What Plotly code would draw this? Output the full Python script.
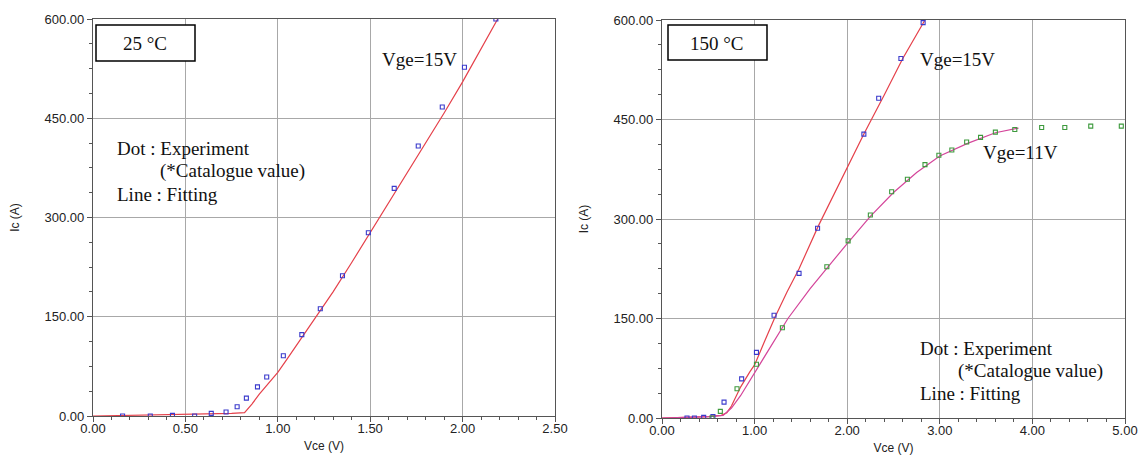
import plotly.graph_objects as go

# ---------------- data ----------------
# 25 degC, Vge=15V
exp25_vce = [0.16, 0.31, 0.43, 0.55, 0.64, 0.72, 0.78, 0.83, 0.89, 0.94, 1.03, 1.13, 1.23, 1.35, 1.49, 1.63, 1.76, 1.89, 2.01, 2.18]
exp25_ic = [0, 0, 1, 0, 4, 6, 14, 27, 44, 59, 91, 123, 162, 212, 277, 344, 408, 467, 527, 600]
fit25_vce = [0.0, 0.2, 0.5, 0.75, 0.82, 0.86, 0.9, 0.95, 1.0, 1.05, 1.1, 1.2, 1.3, 1.4, 1.5, 1.6, 1.7, 1.8, 1.9, 2.0, 2.1, 2.19]
fit25_ic = [0, 1, 2, 4, 5, 18, 33, 50, 66, 86, 106, 146, 188, 232, 277, 322, 367, 412, 458, 505, 555, 600]

# 150 degC, Vge=15V
exp150_15_vce = [0.27, 0.35, 0.45, 0.55, 0.67, 0.86, 1.02, 1.21, 1.48, 1.68, 2.18, 2.34, 2.58, 2.82]
exp150_15_ic = [0, 0, 1, 2, 24, 59, 99, 155, 218, 286, 428, 482, 542, 596]
fit150_15_vce = [0.0, 0.3, 0.5, 0.64, 0.7, 0.75, 0.85, 0.95, 1.0, 1.1, 1.22, 1.35, 1.48, 1.69, 1.9, 2.18, 2.4, 2.6, 2.84]
fit150_15_ic = [0, 1, 2, 4, 8, 18, 47, 70, 80, 113, 152, 190, 225, 290, 350, 428, 487, 542, 600]

# 150 degC, Vge=11V
exp150_11_vce = [0.54, 0.63, 0.81, 1.02, 1.30, 1.78, 2.01, 2.25, 2.48, 2.65, 2.84, 2.99, 3.13, 3.29, 3.44, 3.60, 3.81, 4.10, 4.35, 4.63, 4.96]
exp150_11_ic = [0, 10, 44, 81, 136, 228, 267, 306, 341, 360, 382, 396, 404, 416, 423, 431, 435, 438, 438, 440, 440]
fit150_11_vce = [0.0, 0.3, 0.5, 0.66, 0.75, 0.85, 1.0, 1.2, 1.36, 1.6, 1.78, 2.0, 2.25, 2.5, 2.75, 3.0, 3.3, 3.6, 3.85]
fit150_11_ic = [0, 1, 2, 4, 15, 34, 68, 112, 150, 195, 226, 263, 304, 340, 370, 395, 414, 430, 437]

x_ticks_left = [0.0, 0.5, 1.0, 1.5, 2.0, 2.5]
x_ticks_right = [0.0, 1.0, 2.0, 3.0, 4.0, 5.0]
y_ticks = [0, 150, 300, 450, 600]

# ---------------- figure ----------------
W, H = 1143, 459
def px(x):
    return x / W
def py(y):
    return 1 - y / H

BLUE = "#3a3acc"
GREEN = "#3d9a3d"
RED = "#e5404a"
PINK = "#d4459a"

fig = go.Figure()
fig.add_trace(go.Scatter(x=fit25_vce, y=fit25_ic, mode="lines", line=dict(color=RED, width=1.2),
                         xaxis="x", yaxis="y", showlegend=False))
fig.add_trace(go.Scatter(x=exp25_vce, y=exp25_ic, mode="markers",
                         marker=dict(symbol="square-open", size=4, color=BLUE, line=dict(width=1.1)),
                         xaxis="x", yaxis="y", showlegend=False))
fig.add_trace(go.Scatter(x=fit150_15_vce, y=fit150_15_ic, mode="lines", line=dict(color=RED, width=1.2),
                         xaxis="x2", yaxis="y2", showlegend=False))
fig.add_trace(go.Scatter(x=fit150_11_vce, y=fit150_11_ic, mode="lines", line=dict(color=PINK, width=1.2),
                         xaxis="x2", yaxis="y2", showlegend=False))
fig.add_trace(go.Scatter(x=exp150_15_vce, y=exp150_15_ic, mode="markers",
                         marker=dict(symbol="square-open", size=4, color=BLUE, line=dict(width=1.1)),
                         xaxis="x2", yaxis="y2", showlegend=False))
fig.add_trace(go.Scatter(x=exp150_11_vce, y=exp150_11_ic, mode="markers",
                         marker=dict(symbol="square-open", size=4, color=GREEN, line=dict(width=1.1)),
                         xaxis="x2", yaxis="y2", showlegend=False))

tickfont = dict(family="Liberation Sans, Arial", size=13, color="#222")
titlefont = dict(family="Liberation Sans, Arial", size=12, color="#222")

def xaxis(domain, rng, ticks, minor_dtick, anchor):
    return dict(domain=domain, range=rng, tickvals=ticks, tickformat=".2f", anchor=anchor,
                automargin=False, ticklabelstandoff=-5,
                showgrid=True, gridcolor="#a8a8a8", gridwidth=1, zeroline=False,
                showline=True, linecolor="#555", linewidth=1.2, mirror=True,
                ticks="outside", ticklen=5, tickcolor="#555",
                minor=dict(ticks="outside", dtick=minor_dtick, ticklen=3, tickcolor="#555", showgrid=False),
                tickfont=tickfont,
                title=dict(text="Vce (V)", font=titlefont, standoff=6))

def yaxis(domain, anchor):
    return dict(domain=domain, range=[0, 600], tickvals=y_ticks, tickformat=".2f", anchor=anchor,
                automargin=False,
                showgrid=True, gridcolor="#a8a8a8", gridwidth=1, zeroline=False,
                showline=True, linecolor="#555", linewidth=1.2, mirror=True,
                ticks="outside", ticklen=5, tickcolor="#555",
                minor=dict(ticks="outside", dtick=37.5, ticklen=3, tickcolor="#555", showgrid=False),
                tickfont=tickfont,
                title=dict(text="Ic (A)", font=titlefont, standoff=22))

fig.update_layout(
    width=W, height=H,
    margin=dict(l=0, r=0, t=0, b=0),
    paper_bgcolor="white", plot_bgcolor="white",
    xaxis=xaxis([px(93), px(555)], [0, 2.5], x_ticks_left, 0.1, "y"),
    yaxis=yaxis([py(416), py(19)], "x"),
    xaxis2=xaxis([px(662), px(1125)], [0, 5], x_ticks_right, 0.2, "y2"),
    yaxis2=yaxis([py(418), py(20)], "x2"),
)

serif = dict(family="Liberation Serif, Times New Roman", size=19, color="#111")

shapes = [
    dict(type="rect", xref="paper", yref="paper", x0=px(96), x1=px(195), y0=py(61), y1=py(25),
         line=dict(color="black", width=1.5), fillcolor="white"),
    dict(type="rect", xref="paper", yref="paper", x0=px(668), x1=px(767), y0=py(60), y1=py(25),
         line=dict(color="black", width=1.5), fillcolor="white"),
]
fig.update_layout(shapes=shapes)

def ann(text, x, y, anchor="left"):
    return dict(text=text, xref="paper", yref="paper", x=px(x), y=py(y), xanchor=anchor,
                yanchor="middle", showarrow=False, font=serif, borderpad=0)

annotations = [
    ann("25 °C", 145, 43, "center"),
    ann("150 °C", 717, 43, "center"),
    ann("Vge=15V", 381, 60),
    ann("Dot : Experiment", 116, 148),
    ann("(*Catalogue value)", 159, 171),
    ann("Line : Fitting", 116, 194),
    ann("Vge=15V", 919, 60),
    ann("Vge=11V", 982, 153),
    ann("Dot : Experiment", 919, 348),
    ann("(*Catalogue value)", 957, 371),
    ann("Line : Fitting", 919, 393),
]
fig.update_layout(annotations=annotations)

fig.write_html("out.html")
